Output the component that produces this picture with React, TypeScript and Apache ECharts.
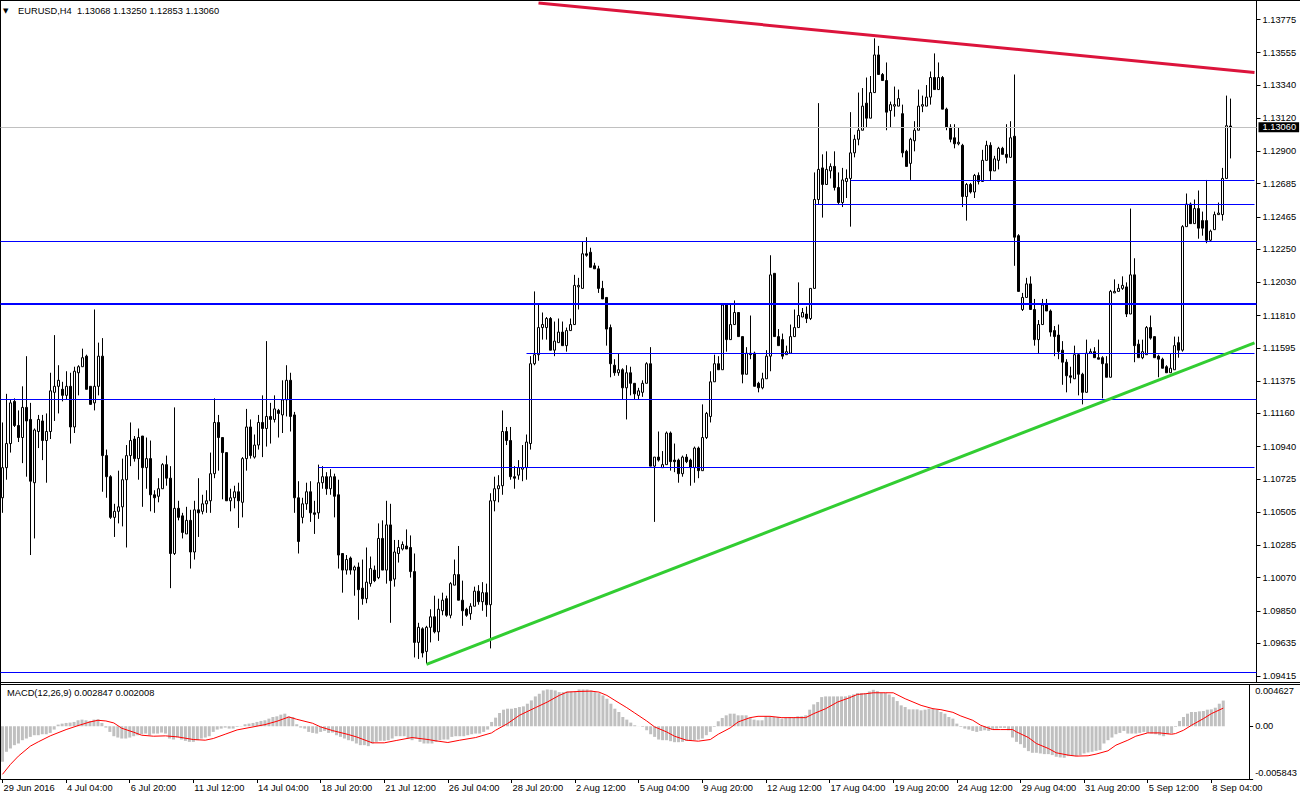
import React, { useEffect, useRef } from "react";
import * as echarts from "echarts";

const FONT = "'Liberation Sans', Arial, sans-serif";
const FS = 9.3;

const SYMBOL = "EURUSD,H4";
const MACD_NAME = "MACD(12,26,9)";

const TIME_LABELS = [
  "29 Jun 2016", "4 Jul 04:00", "6 Jul 20:00", "11 Jul 12:00", "14 Jul 04:00",
  "18 Jul 20:00", "21 Jul 12:00", "26 Jul 04:00", "28 Jul 20:00", "2 Aug 12:00",
  "5 Aug 04:00", "9 Aug 20:00", "12 Aug 12:00", "17 Aug 04:00", "19 Aug 20:00",
  "24 Aug 12:00", "29 Aug 04:00", "31 Aug 20:00", "5 Sep 12:00", "8 Sep 04:00",
];
const LABEL_STEP = 16;
const EMPTY_SLOTS = 6;

const PRICE_TICKS = [
  1.13775, 1.13555, 1.1334, 1.1312, 1.129, 1.12685, 1.12465, 1.1225, 1.1203, 1.1181,
  1.11595, 1.11375, 1.1116, 1.1094, 1.10725, 1.10505, 1.10285, 1.1007, 1.0985, 1.09635, 1.09415,
];
const PRICE_MIN = 1.09377;
const PRICE_MAX = 1.13898;

const OPEN = [
  1.1060,1.1080,1.1096,1.1124,1.1108,1.1100,1.1120,1.1112,1.1070,1.1104,
  1.1111,1.1098,1.1104,1.1130,1.1134,1.1132,1.1128,1.1134,1.1107,1.1143,
  1.1147,1.1154,1.1134,1.1123,1.1134,1.1154,1.1088,1.1074,1.1047,1.1051,
  1.1054,1.1072,1.1088,1.1099,1.1086,1.1101,1.1080,1.1086,1.1062,1.1061,
  1.1066,1.1082,1.1073,1.1023,1.1053,1.1048,1.1036,1.1045,1.1024,1.1052,
  1.1051,1.1056,1.1058,1.1076,1.1110,1.1100,1.1090,1.1058,1.1060,1.1064,
  1.1057,1.1086,1.1107,1.1087,1.1095,1.1110,1.1106,1.1114,1.1112,1.1118,
  1.1115,1.1125,1.1138,1.1115,1.1060,1.1047,1.1056,1.1064,1.1050,1.1050,
  1.1070,1.1074,1.1066,1.1074,1.1062,1.1023,1.1012,1.1020,1.1012,1.1014,
  1.1000,1.0993,1.1003,1.1012,1.1007,1.1033,1.1012,1.1042,1.1006,1.1023,
  1.1026,1.1028,1.1027,1.1011,1.0964,1.0973,1.0958,1.0974,1.0981,1.0971,
  1.0985,1.0993,1.0982,1.1002,1.1009,1.0992,1.0986,1.0983,1.0988,1.0998,
  1.0991,1.0997,1.0989,1.1058,1.1066,1.1068,1.1104,1.1098,1.1074,1.1075,
  1.1079,1.1080,1.1096,1.1149,1.1155,1.1173,1.1173,1.1179,1.1158,1.1163,
  1.1170,1.1161,1.1171,1.1175,1.1200,1.1199,1.1222,1.1223,1.1214,1.1212,
  1.1199,1.1193,1.1173,1.1148,1.1143,1.1145,1.1133,1.1143,1.1136,1.1128,
  1.1130,1.1136,1.1149,1.1081,1.1087,1.1080,1.1082,1.1103,1.1085,1.1085,
  1.1076,1.1087,1.1085,1.1080,1.1093,1.1078,1.1100,1.1114,1.1137,1.1149,
  1.1145,1.1188,1.1165,1.1175,1.1183,1.1167,1.1142,1.1156,1.1156,1.1136,
  1.1133,1.1139,1.1154,1.1209,1.1167,1.1165,1.1155,1.1156,1.1167,1.1173,
  1.1180,1.1182,1.1179,1.1199,1.1258,1.1279,1.1268,1.1277,1.1280,1.1266,
  1.1256,1.1270,1.1272,1.1289,1.1298,1.1304,1.1322,1.1312,1.1329,1.1354,
  1.1341,1.1337,1.1317,1.1320,1.1320,1.1315,1.1290,1.1282,1.1297,1.1304,
  1.1320,1.1320,1.1326,1.1339,1.1331,1.1339,1.1318,1.1306,1.1299,1.1295,
  1.1294,1.1260,1.1268,1.1263,1.1274,1.1270,1.1284,1.1294,1.1277,1.1284,
  1.1292,1.1288,1.1286,1.1300,1.1234,1.1185,1.1193,1.1202,1.1185,1.1165,
  1.1175,1.1188,1.1184,1.1171,1.1168,1.1158,1.1150,1.1141,1.1139,1.1155,
  1.1142,1.1130,1.1156,1.1157,1.1153,1.1153,1.1149,1.1140,1.1196,1.1197,
  1.1199,1.1200,1.1182,1.1208,1.1162,1.1153,1.1155,1.1173,1.1167,1.1154,
  1.1152,1.1147,1.1143,1.1145,1.1163,1.1158,1.1240,1.1255,1.1242,1.1252,
  1.1244,1.1244,1.1231,1.1238,1.1248,1.1248,1.1272,1.13068,
];

const CLOSE = [
  1.1080,1.1096,1.1123,1.1108,1.1100,1.1120,1.1111,1.1071,1.1105,1.1112,
  1.1098,1.1104,1.1131,1.1134,1.1138,1.1128,1.1134,1.1107,1.1144,1.1147,
  1.1153,1.1132,1.1122,1.1134,1.1154,1.1088,1.1074,1.1047,1.1051,1.1054,
  1.1072,1.1088,1.1098,1.1086,1.1100,1.1080,1.1086,1.1062,1.1060,1.1066,
  1.1082,1.1073,1.1023,1.1053,1.1047,1.1037,1.1045,1.1024,1.1052,1.1050,
  1.1056,1.1058,1.1076,1.1110,1.1100,1.1090,1.1058,1.1060,1.1064,1.1058,
  1.1086,1.1107,1.1088,1.1095,1.1110,1.1106,1.1114,1.1112,1.1119,1.1116,
  1.1125,1.1138,1.1114,1.1060,1.1031,1.1056,1.1064,1.1050,1.1049,1.1070,
  1.1074,1.1066,1.1074,1.1061,1.1022,1.1012,1.1019,1.1012,1.1014,1.0999,
  1.0993,1.1004,1.1013,1.1005,1.1033,1.1012,1.1042,1.1005,1.1024,1.1027,
  1.1029,1.1026,1.1011,1.0964,1.0974,1.0957,1.0974,1.0981,1.0971,1.0986,
  1.0992,1.0982,1.1003,1.1009,1.0992,1.0985,1.0982,1.0988,1.0998,1.0991,
  1.0997,1.0989,1.1058,1.1066,1.1068,1.1104,1.1098,1.1074,1.1073,1.1080,
  1.1080,1.1097,1.1149,1.1155,1.1173,1.1175,1.1179,1.1158,1.1164,1.1170,
  1.1161,1.1171,1.1175,1.1201,1.1201,1.1222,1.1221,1.1213,1.1212,1.1199,
  1.1192,1.1172,1.1149,1.1143,1.1145,1.1133,1.1143,1.1136,1.1129,1.1131,
  1.1136,1.1149,1.1081,1.1087,1.1085,1.1082,1.1103,1.1084,1.1084,1.1076,
  1.1087,1.1084,1.1080,1.1093,1.1078,1.1100,1.1116,1.1137,1.1149,1.1145,
  1.1188,1.1165,1.1175,1.1183,1.1167,1.1142,1.1156,1.1155,1.1134,1.1133,
  1.1139,1.1154,1.1208,1.1167,1.1161,1.1154,1.1157,1.1167,1.1173,1.1181,
  1.1183,1.1179,1.1199,1.1258,1.1278,1.1268,1.1278,1.1280,1.1266,1.1256,
  1.1271,1.1272,1.1289,1.1298,1.1304,1.1320,1.1312,1.1329,1.1354,1.1341,
  1.1337,1.1316,1.1321,1.1321,1.1325,1.1289,1.1280,1.1298,1.1304,1.1320,
  1.1321,1.1326,1.1339,1.1331,1.1339,1.1318,1.1306,1.1298,1.1295,1.1296,
  1.1260,1.1268,1.1263,1.1274,1.1270,1.1284,1.1294,1.1277,1.1285,1.1292,
  1.1288,1.1286,1.1299,1.1233,1.1197,1.1193,1.1202,1.1185,1.1165,1.1175,
  1.1188,1.1184,1.1170,1.1167,1.1157,1.1150,1.1141,1.1140,1.1155,1.1142,
  1.1130,1.1156,1.1157,1.1153,1.1152,1.1149,1.1140,1.1197,1.1197,1.1199,
  1.1201,1.1182,1.1208,1.1161,1.1153,1.1157,1.1173,1.1166,1.1153,1.1152,
  1.1146,1.1143,1.1146,1.1161,1.1158,1.1240,1.1255,1.1242,1.1252,1.1239,
  1.1239,1.1231,1.1237,1.1248,1.1249,1.1272,1.1307,1.13060,
];

const LOW = [
  1.1050,1.1072,1.1090,1.1107,1.1097,1.1083,1.1074,1.1022,1.1033,1.1093,
  1.1085,1.1070,1.1099,1.1111,1.1116,1.1124,1.1125,1.1096,1.1103,1.1128,
  1.1147,1.1132,1.1122,1.1118,1.1128,1.1064,1.1060,1.1046,1.1034,1.1043,
  1.1041,1.1027,1.1081,1.1084,1.1072,1.1054,1.1066,1.1051,1.1050,1.1057,
  1.1066,1.1068,1.1000,1.1022,1.1045,1.1033,1.1036,1.1013,1.1019,1.1034,
  1.1049,1.1050,1.1050,1.1073,1.1078,1.1059,1.1058,1.1051,1.1053,1.1040,
  1.1047,1.1078,1.1086,1.1086,1.1092,1.1087,1.1094,1.1096,1.1110,1.1100,
  1.1103,1.1114,1.1104,1.1050,1.1023,1.1043,1.1052,1.1044,1.1036,1.1046,
  1.1066,1.1062,1.1062,1.1047,1.1013,1.0997,1.1009,1.1009,1.0995,1.0979,
  1.0989,1.0990,1.1001,1.1004,1.1006,1.1012,1.1003,1.0977,1.1001,1.1017,
  1.1025,1.1026,1.1007,1.0954,1.0953,1.0954,1.0950,1.0964,1.0970,1.0965,
  1.0982,1.0981,1.0980,1.1002,1.0992,1.0975,1.0981,1.0979,1.0988,1.0989,
  1.0985,1.0981,1.0960,1.1051,1.1057,1.1062,1.1095,1.1072,1.1066,1.1072,
  1.1071,1.1072,1.1092,1.1148,1.1151,1.1165,1.1165,1.1158,1.1154,1.1163,
  1.1161,1.1157,1.1171,1.1175,1.1185,1.1199,1.1220,1.1213,1.1212,1.1196,
  1.1192,1.1161,1.1140,1.1141,1.1141,1.1125,1.1112,1.1128,1.1125,1.1125,
  1.1127,1.1136,1.1081,1.1044,1.1084,1.1080,1.1082,1.1078,1.1077,1.1070,
  1.1074,1.1083,1.1068,1.1070,1.1073,1.1078,1.1099,1.1110,1.1137,1.1145,
  1.1145,1.1157,1.1165,1.1175,1.1167,1.1136,1.1142,1.1152,1.1134,1.1130,
  1.1132,1.1139,1.1144,1.1167,1.1161,1.1152,1.1155,1.1156,1.1167,1.1173,
  1.1180,1.1176,1.1178,1.1199,1.1255,1.1246,1.1268,1.1272,1.1264,1.1255,
  1.1253,1.1259,1.1240,1.1286,1.1294,1.1304,1.1306,1.1312,1.1329,1.1341,
  1.1337,1.1304,1.1306,1.1313,1.1320,1.1286,1.1280,1.1271,1.1290,1.1304,
  1.1316,1.1320,1.1321,1.1331,1.1331,1.1318,1.1304,1.1296,1.1292,1.1294,
  1.1253,1.1244,1.1262,1.1259,1.1268,1.1270,1.1284,1.1271,1.1277,1.1278,
  1.1288,1.1282,1.1286,1.1214,1.1197,1.1184,1.1193,1.1185,1.1161,1.1156,
  1.1175,1.1184,1.1167,1.1154,1.1152,1.1135,1.1130,1.1136,1.1139,1.1128,
  1.1122,1.1130,1.1156,1.1153,1.1152,1.1126,1.1140,1.1140,1.1196,1.1197,
  1.1198,1.1180,1.1182,1.1150,1.1153,1.1152,1.1155,1.1165,1.1153,1.1140,
  1.1146,1.1143,1.1143,1.1145,1.1153,1.1157,1.1240,1.1242,1.1242,1.1232,
  1.1234,1.1229,1.1230,1.1238,1.1248,1.1244,1.1272,1.12853,
];

const HIGH = [
  1.1110,1.1129,1.1125,1.1126,1.1118,1.1134,1.1154,1.1123,1.1106,1.1115,
  1.1115,1.1116,1.1143,1.1168,1.1148,1.1137,1.1144,1.1143,1.1147,1.1148,
  1.1159,1.1155,1.1134,1.1185,1.1163,1.1166,1.1092,1.1075,1.1056,1.1078,
  1.1086,1.1095,1.1110,1.1101,1.1106,1.1101,1.1100,1.1098,1.1065,1.1073,
  1.1083,1.1088,1.1081,1.1120,1.1058,1.1050,1.1054,1.1052,1.1058,1.1073,
  1.1062,1.1065,1.1090,1.1126,1.1115,1.1100,1.1090,1.1066,1.1068,1.1070,
  1.1087,1.1119,1.1112,1.1102,1.1115,1.1128,1.1164,1.1123,1.1128,1.1119,
  1.1138,1.1148,1.1143,1.1117,1.1071,1.1060,1.1070,1.1071,1.1058,1.1082,
  1.1081,1.1077,1.1079,1.1076,1.1072,1.1023,1.1022,1.1021,1.1015,1.1017,
  1.1019,1.1027,1.1021,1.1015,1.1043,1.1045,1.1058,1.1056,1.1032,1.1032,
  1.1031,1.1039,1.1035,1.1023,1.0977,1.0974,1.0975,1.0986,1.0995,1.0993,
  1.0997,1.0995,1.1004,1.1019,1.1028,1.1005,1.0987,1.0990,1.1001,1.1002,
  1.1004,1.1003,1.1063,1.1074,1.1075,1.1118,1.1107,1.1107,1.1081,1.1085,
  1.1095,1.1102,1.1154,1.1197,1.1188,1.1183,1.1180,1.1180,1.1177,1.1179,
  1.1177,1.1173,1.1179,1.1208,1.1206,1.1230,1.1233,1.1226,1.1216,1.1214,
  1.1204,1.1193,1.1175,1.1152,1.1156,1.1146,1.1148,1.1147,1.1136,1.1133,
  1.1138,1.1150,1.1160,1.1087,1.1104,1.1091,1.1104,1.1104,1.1096,1.1086,
  1.1088,1.1089,1.1086,1.1094,1.1094,1.1122,1.1117,1.1144,1.1155,1.1154,
  1.1189,1.1189,1.1189,1.1191,1.1183,1.1167,1.1160,1.1181,1.1157,1.1137,
  1.1143,1.1158,1.1221,1.1209,1.1172,1.1169,1.1161,1.1175,1.1185,1.1203,
  1.1186,1.1187,1.1199,1.1276,1.1322,1.1288,1.1290,1.1282,1.1290,1.1276,
  1.1279,1.1278,1.1316,1.1301,1.1329,1.1332,1.1339,1.1340,1.1365,1.1360,
  1.1342,1.1349,1.1323,1.1333,1.1331,1.1321,1.1291,1.1299,1.1310,1.1331,
  1.1327,1.1334,1.1343,1.1355,1.1349,1.1340,1.1319,1.1308,1.1308,1.1306,
  1.1295,1.1269,1.1269,1.1275,1.1276,1.1291,1.1297,1.1296,1.1287,1.1293,
  1.1293,1.1308,1.1310,1.1341,1.1235,1.1196,1.1206,1.1207,1.1192,1.1178,
  1.1192,1.1192,1.1185,1.1174,1.1175,1.1164,1.1152,1.1147,1.1161,1.1156,
  1.1143,1.1165,1.1159,1.1160,1.1165,1.1154,1.1154,1.1198,1.1205,1.1202,
  1.1207,1.1203,1.1252,1.1219,1.1165,1.1165,1.1174,1.1181,1.1167,1.1155,
  1.1153,1.1148,1.1156,1.1167,1.1167,1.1241,1.1262,1.1256,1.1258,1.1264,
  1.1250,1.1271,1.1238,1.1250,1.1256,1.1279,1.1327,1.13250,
];

const MACD_HIST = [
  -0.003931,-0.002829,-0.002462,-0.002094,-0.001910,-0.001543,-0.001359,-0.001176,-0.000992,-0.000992,
  -0.000882,-0.000882,-0.000735,-0.000367,0.000184,0.000294,0.000367,0.000404,0.000478,0.000661,
  0.000735,0.000661,0.000588,0.000735,0.000772,0.000367,-0.000147,-0.000625,-0.001102,-0.001249,
  -0.001359,-0.001359,-0.001249,-0.001102,-0.000992,-0.000882,-0.000808,-0.000992,-0.000808,-0.000808,
  -0.000698,-0.000808,-0.001359,-0.001470,-0.001249,-0.001470,-0.001617,-0.001727,-0.001727,-0.001543,
  -0.001359,-0.001249,-0.001102,-0.000625,-0.000367,-0.000257,-0.000147,-0.000257,-0.000257,-0.000073,
  0.000030,0.000220,0.000294,0.000367,0.000478,0.000588,0.000661,0.000845,0.001029,0.001102,
  0.001286,0.001396,0.001102,0.001029,0.000220,-0.000147,-0.000257,-0.000625,-0.000735,-0.000808,
  -0.000625,-0.000514,-0.000735,-0.000698,-0.000992,-0.001176,-0.001359,-0.001543,-0.001653,-0.001910,
  -0.002094,-0.002094,-0.002204,-0.001910,-0.001727,-0.001617,-0.001617,-0.001543,-0.001359,-0.001102,
  -0.001102,-0.001102,-0.001359,-0.001543,-0.001359,-0.001727,-0.001910,-0.001910,-0.001910,-0.001727,
  -0.001543,-0.001470,-0.001470,-0.001176,-0.001102,-0.001102,-0.001102,-0.000992,-0.000882,-0.000808,
  -0.000808,-0.000625,-0.000367,0.000478,0.000955,0.001470,0.001837,0.001947,0.001947,0.002021,
  0.002131,0.002204,0.002498,0.002866,0.003307,0.003601,0.003968,0.004078,0.004041,0.003968,
  0.003784,0.003784,0.003858,0.003858,0.003858,0.004078,0.004078,0.004078,0.003968,0.003784,
  0.003674,0.003417,0.003049,0.002498,0.001947,0.001580,0.001029,0.000735,0.000404,0.000110,
  0.000010,-0.000073,-0.000441,-0.000882,-0.001176,-0.001470,-0.001543,-0.001543,-0.001653,-0.001764,
  -0.001764,-0.001727,-0.001617,-0.001617,-0.001543,-0.001470,-0.001359,-0.000992,-0.000625,-0.000073,
  0.000551,0.000919,0.001212,0.001396,0.001396,0.001212,0.001212,0.001212,0.000955,0.000735,
  0.000661,0.000661,0.001102,0.001102,0.001029,0.001029,0.000845,0.000955,0.001029,0.001029,
  0.001102,0.001102,0.001212,0.001837,0.002425,0.002682,0.003233,0.003307,0.003307,0.003307,
  0.003307,0.003307,0.003307,0.003417,0.003527,0.003674,0.003674,0.003674,0.003858,0.004041,
  0.003894,0.003711,0.003711,0.003527,0.003233,0.002792,0.002315,0.002131,0.001874,0.001874,
  0.001874,0.001764,0.001837,0.001947,0.001947,0.001837,0.001580,0.001396,0.001029,0.000845,
  0.000294,-0.000073,-0.000257,-0.000367,-0.000514,-0.000625,-0.000514,-0.000441,-0.000514,-0.000367,
  -0.000257,-0.000184,-0.000184,-0.000441,-0.001249,-0.001727,-0.001984,-0.002388,-0.002756,-0.002939,
  -0.002939,-0.003013,-0.003086,-0.003086,-0.003196,-0.003380,-0.003454,-0.003490,-0.003307,-0.003307,
  -0.003307,-0.003196,-0.003013,-0.002902,-0.002829,-0.002719,-0.002645,-0.001910,-0.001543,-0.001249,
  -0.000882,-0.000735,-0.000514,-0.000808,-0.000808,-0.000808,-0.000735,-0.000625,-0.000735,-0.000808,
  -0.000882,-0.000992,-0.001102,-0.000882,-0.000808,-0.000073,0.000588,0.001029,0.001396,0.001580,
  0.001580,0.001653,0.001690,0.001837,0.001874,0.002057,0.002498,0.002847,
];

// signal line read at bar positions: [bar index, value]
const MACD_SIGNAL: [number, number][] = [
  [0,-0.005327],[2,-0.004225],[4,-0.003307],[7,-0.002204],[9,-0.001727],[12,-0.001065],[16,-0.000367],[19,0.000073],[22,0.000478],[24,0.000661],
  [26,0.000588],[28,0.000367],[30,-0.000220],[33,-0.000661],[35,-0.000992],[38,-0.001102],[41,-0.001065],[44,-0.001176],[48,-0.001470],[51,-0.001543],
  [53,-0.001359],[56,-0.000882],[59,-0.000404],[63,-0.000073],[66,0.000184],[69,0.000551],[72,0.001029],[74,0.000772],[78,0.000331],[80,-0.000073],
  [83,-0.000478],[87,-0.000919],[89,-0.001176],[93,-0.001837],[96,-0.001837],[99,-0.001580],[103,-0.001249],[105,-0.001359],[107,-0.001470],[109,-0.001617],
  [112,-0.001800],[115,-0.001543],[119,-0.001249],[123,-0.000735],[124,-0.000441],[127,0.000294],[130,0.001212],[134,0.002057],[137,0.002682],[140,0.003417],
  [142,0.003784],[145,0.003858],[148,0.003894],[150,0.003784],[152,0.003417],[154,0.002866],[157,0.002057],[159,0.001470],[162,0.000588],[164,-0.000073],
  [167,-0.000625],[169,-0.001102],[172,-0.001543],[175,-0.001653],[178,-0.001470],[180,-0.000882],[183,-0.000184],[185,0.000478],[188,0.000955],[190,0.001102],
  [193,0.001102],[196,0.000955],[199,0.000955],[202,0.000955],[204,0.001396],[207,0.001947],[210,0.002682],[213,0.003160],[215,0.003527],[217,0.003601],
  [219,0.003711],[222,0.003711],[224,0.003711],[227,0.003049],[231,0.002315],[234,0.001947],[236,0.001837],[239,0.001543],[241,0.001139],[244,0.000661],
  [246,0.000110],[249,-0.000367],[251,-0.000367],[254,-0.000367],[255,-0.000625],[258,-0.001249],[260,-0.001910],[263,-0.002462],[265,-0.002939],[268,-0.003196],
  [270,-0.003307],[273,-0.003270],[275,-0.003086],[278,-0.002719],[280,-0.002094],[283,-0.001543],[285,-0.001102],[288,-0.000735],[291,-0.000735],[294,-0.000882],
  [295,-0.000808],[297,-0.000441],[299,0.000110],[302,0.000845],[304,0.001396],[307,0.002008],
];
const MACD_MIN = -0.005843;
const MACD_MAX = 0.004627;

// horizontal levels: price and first bar (null = whole chart width)
const LEVEL_PRICES = [1.1271, 1.1255, 1.123, 1.1189, 1.1156, 1.11254, 1.108, 1.0944];
const LEVEL_START = [212, 203, null, null, 131, null, 79, null];
const LEVEL_WIDTHS = [1, 1, 1, 2, 1, 1, 1, 1];

// trend lines: [bar, price] endpoints
const RED_TREND = [[134, 1.13885], [313, 1.13424]];
const GREEN_TREND = [[106, 1.09494], [313, 1.11629]];

function buildOption() {
  const n = OPEN.length;
  const last = n - 1;
  const totalCats = n + EMPTY_SLOTS;
  const lastCat = totalCats - 1;
  const categories = Array.from({ length: totalCats }, (_, i) => String(i));
  const candles = OPEN.map((o, i) => [o, CLOSE[i], LOW[i], HIGH[i]]);
  const labelAt = (idx: number) => idx % LABEL_STEP === 0 && idx / LABEL_STEP < TIME_LABELS.length;

  const txt = { color: "#000", fontFamily: FONT, fontSize: FS };

  const levelLines: any[] = LEVEL_PRICES.map((p, i) => {
    const ls = { color: "#0000FF", width: LEVEL_WIDTHS[i], type: "solid" };
    const s = LEVEL_START[i];
    if (s == null) return { yAxis: p, lineStyle: ls };
    return [{ coord: [s, p], lineStyle: ls }, { coord: [lastCat, p] }];
  });

  const trend = (pts: number[][], color: string) => [
    { coord: pts[0], lineStyle: { color, width: 3, type: "solid" } },
    { coord: pts[1] },
  ];

  const priceLine = {
    yAxis: CLOSE[last],
    lineStyle: { color: "#C0C0C0", width: 1, type: "solid" },
    label: {
      show: true,
      position: "end",
      distance: 2,
      formatter: CLOSE[last].toFixed(5),
      backgroundColor: "#000",
      color: "#fff",
      fontFamily: FONT,
      fontSize: FS,
      lineHeight: 10,
      padding: [0, 3, 0, 4],
    },
  };

  const header = `${SYMBOL}  ${OPEN[last].toFixed(5)} ${HIGH[last].toFixed(5)} ${LOW[last].toFixed(5)} ${CLOSE[last].toFixed(5)}`;
  const macdLabel = `${MACD_NAME} ${MACD_HIST[last].toFixed(6)} ${MACD_SIGNAL[MACD_SIGNAL.length - 1][1].toFixed(6)}`;

  const frame = { stroke: "#000", lineWidth: 1 };

  return {
    animation: false,
    backgroundColor: "#fff",
    grid: [
      { left: 0.5, width: 1256, top: 1, height: 681, show: false },
      { left: 0.5, width: 1256, top: 684.5, height: 94.5, show: false },
    ],
    xAxis: [
      {
        type: "category",
        gridIndex: 0,
        data: categories,
        boundaryGap: true,
        show: false,
      },
      {
        type: "category",
        gridIndex: 1,
        data: categories,
        boundaryGap: true,
        position: "bottom",
        axisLine: { show: true, onZero: false, lineStyle: { color: "#000", width: 1 } },
        axisTick: {
          show: true,
          interval: (idx: number) => labelAt(idx),
          alignWithLabel: true,
          length: 4,
          lineStyle: { color: "#000" },
        },
        axisLabel: {
          ...txt,
          interval: (idx: number) => labelAt(idx),
          formatter: (_v: string, idx: number) => TIME_LABELS[Math.round(idx / LABEL_STEP)] ?? "",
          align: "left",
          margin: 4,
          padding: [0, 0, 0, 1],
        },
        splitLine: { show: false },
      },
    ],
    yAxis: [
      {
        type: "value",
        gridIndex: 0,
        position: "right",
        min: PRICE_MIN,
        max: PRICE_MAX,
        axisLine: { show: true, lineStyle: { color: "#000", width: 1 } },
        axisTick: { show: true, length: 4, customValues: PRICE_TICKS, lineStyle: { color: "#000" } },
        axisLabel: { ...txt, customValues: PRICE_TICKS, formatter: (v: number) => v.toFixed(5), margin: 6 },
        splitLine: { show: false },
      },
      {
        type: "value",
        gridIndex: 1,
        position: "right",
        min: MACD_MIN,
        max: MACD_MAX,
        axisLine: { show: true, lineStyle: { color: "#000", width: 1 } },
        axisTick: { show: true, length: 4, customValues: [MACD_MAX, 0, MACD_MIN], lineStyle: { color: "#000" } },
        axisLabel: {
          ...txt,
          customValues: [MACD_MAX, 0, MACD_MIN],
          margin: 6,
          formatter: (v: number) =>
            v === 0 ? "0.00" : v > 0 ? `{t|${v.toFixed(6)}}` : `{b|${v.toFixed(6)}}`,
          rich: {
            t: { ...txt, padding: [13, 0, 0, 0] },
            b: { ...txt, padding: [0, 0, 12, 0] },
          },
        },
        splitLine: { show: false },
      },
    ],
    series: [
      {
        type: "candlestick",
        xAxisIndex: 0,
        yAxisIndex: 0,
        data: candles,
        barWidth: 2,
        itemStyle: {
          color: "#ffffff",
          color0: "#000000",
          borderColor: "#000000",
          borderColor0: "#000000",
          borderColorDoji: "#000000",
          borderWidth: 1,
        },
        markLine: {
          silent: true,
          symbol: ["none", "none"],
          animation: false,
          precision: 5,
          label: { show: false },
          data: [
            priceLine,
            ...levelLines,
            trend(RED_TREND, "#DC143C"),
            trend(GREEN_TREND, "#32CD32"),
          ],
        },
      },
      {
        type: "bar",
        xAxisIndex: 1,
        yAxisIndex: 1,
        data: MACD_HIST,
        barWidth: 3,
        itemStyle: { color: "#C0C0C0" },
        silent: true,
      },
      {
        type: "line",
        xAxisIndex: 1,
        yAxisIndex: 1,
        data: MACD_SIGNAL,
        showSymbol: false,
        symbol: "none",
        lineStyle: { color: "#FF0000", width: 1 },
        z: 5,
        silent: true,
      },
    ],
    graphic: [
      { type: "line", silent: true, shape: { x1: 0, y1: 0.5, x2: 1300, y2: 0.5 }, style: frame },
      { type: "line", silent: true, shape: { x1: 0.5, y1: 0, x2: 0.5, y2: 779 }, style: frame },
      { type: "line", silent: true, shape: { x1: 0, y1: 682.5, x2: 1300, y2: 682.5 }, style: frame },
      { type: "line", silent: true, shape: { x1: 0, y1: 684.5, x2: 1300, y2: 684.5 }, style: frame },
      {
        type: "text",
        silent: true,
        x: 3,
        y: 11,
        style: { text: "▼", fill: "#000", fontSize: 7, fontFamily: "'DejaVu Sans'", verticalAlign: "middle", align: "left" },
      },
      {
        type: "text",
        silent: true,
        x: 18,
        y: 11,
        style: { text: header, fill: "#000", fontSize: FS, fontFamily: FONT, verticalAlign: "middle", align: "left" },
      },
      {
        type: "text",
        silent: true,
        x: 7,
        y: 693,
        style: { text: macdLabel, fill: "#000", fontSize: FS, fontFamily: FONT, verticalAlign: "middle", align: "left" },
      },
    ],
  };
}

export default function App() {
  const ref = useRef<HTMLDivElement>(null);
  useEffect(() => {
    if (!ref.current) return;
    const chart = echarts.init(ref.current, undefined, { renderer: "svg" });
    chart.setOption(buildOption() as any);
    return () => chart.dispose();
  }, []);
  return (
    <div
      ref={ref}
      style={{ position: "fixed", left: 0, top: 0, width: 1300, height: 800, background: "#fff" }}
    />
  );
}
